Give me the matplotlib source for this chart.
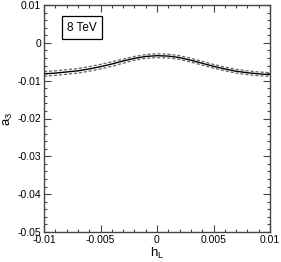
import matplotlib
matplotlib.use("Agg")
import matplotlib.pyplot as plt
from matplotlib.ticker import MultipleLocator, FixedLocator

hL = [-0.010, -0.009, -0.008, -0.007, -0.006, -0.005, -0.004, -0.003, -0.002, -0.001, 0.0,
      0.001, 0.002, 0.003, 0.004, 0.005, 0.006, 0.007, 0.008, 0.009, 0.010]
a3_central = [-0.0082, -0.0080, -0.0077, -0.0074, -0.0069, -0.0063, -0.0056, -0.0048, -0.0041, -0.0036, -0.0034,
              -0.0035, -0.0039, -0.0046, -0.0054, -0.0062, -0.0069, -0.0075, -0.0079, -0.0082, -0.0084]
a3_upper = [-0.0076, -0.0074, -0.0071, -0.0068, -0.0063, -0.0057, -0.0050, -0.0043, -0.0036, -0.0031, -0.0029,
            -0.0030, -0.0034, -0.0041, -0.0049, -0.0057, -0.0064, -0.0070, -0.0074, -0.0077, -0.0079]
a3_lower = [-0.0088, -0.0086, -0.0083, -0.0080, -0.0075, -0.0069, -0.0062, -0.0054, -0.0046, -0.0041, -0.0039,
            -0.0040, -0.0044, -0.0051, -0.0059, -0.0067, -0.0074, -0.0080, -0.0084, -0.0087, -0.0089]
xticks = [-0.01, -0.005, 0, 0.005, 0.01]
xticklabels = ["-0.01", "-0.005", "0", "0.005", "0.01"]
yticks = [-0.05, -0.04, -0.03, -0.02, -0.01, 0, 0.01]
yticklabels = ["-0.05", "-0.04", "-0.03", "-0.02", "-0.01", "0", "0.01"]

plt.rcParams['font.family'] = ['Liberation Sans', 'DejaVu Sans']

fig = plt.figure(figsize=(2.81, 2.62), dpi=100)
ax = fig.add_axes([44/281, 1 - 232/262, 226/281, 227/262])

ax.plot(hL, a3_upper, color='#666666', lw=0.9, ls=(0, (2.5, 1.5)))
ax.plot(hL, a3_lower, color='#666666', lw=0.9, ls=(0, (2.5, 1.5)))
ax.plot(hL, a3_central, color='black', lw=1.0)

ax.set_xlim(-0.01, 0.01)
ax.set_ylim(-0.05, 0.01)
ax.xaxis.set_major_locator(FixedLocator(xticks))
ax.set_xticklabels(xticklabels)
ax.yaxis.set_major_locator(FixedLocator(yticks))
ax.set_yticklabels(yticklabels)
ax.xaxis.set_minor_locator(MultipleLocator(0.001))
ax.yaxis.set_minor_locator(MultipleLocator(0.002))
ax.tick_params(which='both', direction='in', top=True, right=True, labelsize=7.5, pad=2, width=0.8, color='#444444')
ax.tick_params(which='major', length=5)
ax.tick_params(which='minor', length=2.5)
for s in ax.spines.values():
    s.set_linewidth(1.0)
    s.set_color('#444444')

ax.set_xlabel("h$_\\mathregular{L}$", fontsize=9.5, labelpad=1)
ax.set_ylabel("a$_\\mathregular{3}$", fontsize=9.5, labelpad=2)

ax.text(0.168, 0.90, "8 TeV", transform=ax.transAxes, ha='center', va='center', fontsize=8.5,
        bbox=dict(boxstyle='square,pad=0.45', fc='white', ec='black', lw=0.9))

fig.savefig("out.png", dpi=100)
